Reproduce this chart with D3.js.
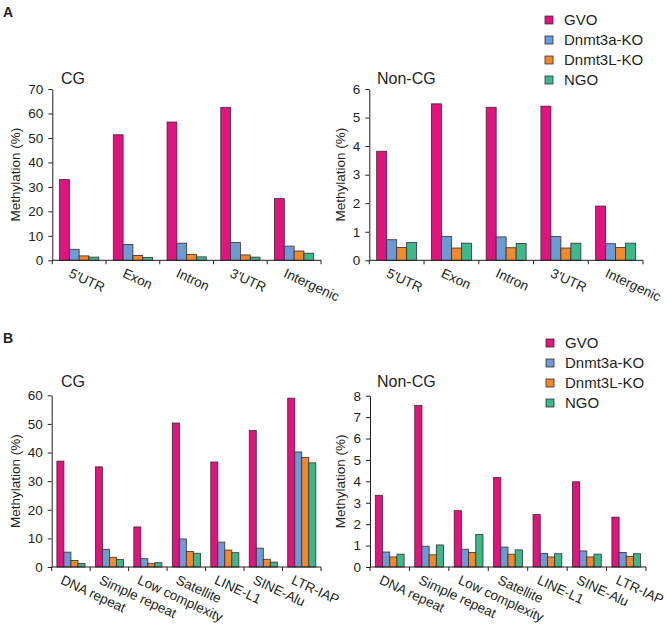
<!DOCTYPE html>
<html><head><meta charset="utf-8">
<script src="https://cdn.jsdelivr.net/npm/d3@7"></script>
<style>
body{margin:0;background:#fff;}
text{font-family:"Liberation Sans",Arial,Helvetica,sans-serif;fill:#231f20;}
</style></head>
<body>
<svg id="chart" width="668" height="626"></svg>
<script>
const seriesNames = ["GVO", "Dnmt3a-KO", "Dnmt3L-KO", "NGO"];
const seriesColors = ["#e2127e", "#6b9bd6", "#f28a2a", "#3cb98a"];

const regionCats = ["5'UTR", "Exon", "Intron", "3'UTR", "Intergenic"];
const regionCG_GVO = [33.0, 51.3, 56.5, 62.5, 25.2];
const regionCG_3a  = [4.5, 6.5, 7.0, 7.3, 5.8];
const regionCG_3L  = [1.8, 2.0, 2.4, 2.2, 3.8];
const regionCG_NGO = [1.3, 1.2, 1.4, 1.3, 2.9];
const regionNonCG_GVO = [3.82, 5.48, 5.36, 5.40, 1.90];
const regionNonCG_3a  = [0.72, 0.84, 0.82, 0.83, 0.58];
const regionNonCG_3L  = [0.45, 0.43, 0.44, 0.43, 0.45];
const regionNonCG_NGO = [0.62, 0.60, 0.59, 0.60, 0.60];

const repeatCats = ["DNA repeat", "Simple repeat", "Low complexity", "Satellite", "LINE-L1", "SINE-Alu", "LTR-IAP"];
const repeatCG_GVO = [37.0, 35.0, 14.0, 50.3, 36.7, 47.7, 59.0];
const repeatCG_3a  = [5.2, 6.2, 2.9, 9.8, 8.7, 6.6, 40.2];
const repeatCG_3L  = [2.3, 3.4, 1.3, 5.4, 5.9, 2.7, 38.3];
const repeatCG_NGO = [1.2, 2.6, 1.5, 4.8, 5.0, 1.7, 36.4];
const repeatNonCG_GVO = [3.35, 7.55, 2.63, 4.18, 2.45, 3.98, 2.33];
const repeatNonCG_3a  = [0.70, 0.97, 0.83, 0.93, 0.63, 0.75, 0.68];
const repeatNonCG_3L  = [0.47, 0.57, 0.68, 0.60, 0.47, 0.47, 0.50];
const repeatNonCG_NGO = [0.60, 1.03, 1.52, 0.80, 0.62, 0.60, 0.62];

const cgTicks70 = [0, 10, 20, 30, 40, 50, 60, 70];
const nonCgTicks6 = [0, 1, 2, 3, 4, 5, 6];
const cgTicks60 = [0, 10, 20, 30, 40, 50, 60];
const nonCgTicks8 = [0, 1, 2, 3, 4, 5, 6, 7, 8];

const svg = d3.select("#chart");

function panel(cfg) {
  const g = svg.append("g");
  const x = d3.scaleBand().domain(cfg.cats).range([cfg.x0, cfg.x1]).padding(0);
  const bw = x.bandwidth();
  const xs = d3.scaleBand().domain(d3.range(seriesNames.length)).range([bw * 0.135, bw * 0.865]).padding(0);
  const y = d3.scaleLinear().domain([0, cfg.ymax]).range([cfg.y0, cfg.yTop]);

  cfg.series.forEach((vals, si) => {
    g.selectAll(null).data(vals).enter().append("rect")
      .attr("x", (d, i) => x(cfg.cats[i]) + xs(si))
      .attr("y", d => y(d))
      .attr("width", xs.bandwidth())
      .attr("height", d => y(0) - y(d))
      .attr("fill", seriesColors[si])
      .attr("stroke", "#3b2a30")
      .attr("stroke-width", 0.8);
  });

  // y axis
  const ya = g.append("g").attr("transform", `translate(${cfg.x0},0)`)
    .call(d3.axisLeft(y).tickValues(cfg.ticks).tickSize(4).tickSizeOuter(0).tickPadding(5).tickFormat(d3.format("d")));
  ya.selectAll("text").style("font-size", "13.5px").attr("fill", "#231f20");
  ya.selectAll("line,path").attr("stroke", "#231f20");

  // x axis with ticks at category boundaries
  const bounds = cfg.cats.map(c => x(c)).concat([x.range()[1]]);
  g.append("line").attr("x1", cfg.x0).attr("x2", cfg.x1).attr("y1", cfg.y0).attr("y2", cfg.y0).attr("stroke", "#231f20");
  g.selectAll(null).data(bounds).enter().append("line")
    .attr("x1", d => d).attr("x2", d => d).attr("y1", cfg.y0).attr("y2", cfg.y0 + 4).attr("stroke", "#231f20");

  g.selectAll(null).data(cfg.cats).enter().append("text")
    .attr("transform", d => `translate(${x(d) + bw / 2 - 7},${cfg.y0 + 7}) rotate(25)`)
    .attr("dy", "0.75em")
    .style("font-size", "13.5px")
    .text(d => d);

  g.append("text").attr("transform", `translate(${cfg.ytx},${(cfg.y0 + cfg.yTop) / 2}) rotate(-90)`)
    .attr("text-anchor", "middle").attr("dy", "0.35em").style("font-size", "13.5px").text("Methylation (%)");

  g.append("text").attr("x", cfg.tx).attr("y", cfg.ty).style("font-size", "16px").text(cfg.title);
}

function legend(lx, ly) {
  const g = svg.append("g");
  seriesNames.forEach((n, i) => {
    g.append("rect").attr("x", lx).attr("y", ly + i * 20 - 4).attr("width", 8).attr("height", 8)
      .attr("fill", seriesColors[i]).attr("stroke", "#3b2a30").attr("stroke-width", 0.8);
    g.append("text").attr("x", lx + 19).attr("y", ly + i * 20).attr("dy", "0.36em").style("font-size", "15px").text(n);
  });
}

panel({cats: regionCats, series: [regionCG_GVO, regionCG_3a, regionCG_3L, regionCG_NGO], ymax: 70, ticks: cgTicks70,
  x0: 52.3, x1: 321, y0: 260.3, yTop: 89, ytx: 15, title: "CG", tx: 61, ty: 84});
panel({cats: regionCats, series: [regionNonCG_GVO, regionNonCG_3a, regionNonCG_3L, regionNonCG_NGO], ymax: 6, ticks: nonCgTicks6,
  x0: 369.3, x1: 643, y0: 260.3, yTop: 89, ytx: 340, title: "Non-CG", tx: 377, ty: 84});
panel({cats: repeatCats, series: [repeatCG_GVO, repeatCG_3a, repeatCG_3L, repeatCG_NGO], ymax: 60, ticks: cgTicks60,
  x0: 51.7, x1: 321, y0: 567, yTop: 395.3, ytx: 15, title: "CG", tx: 61, ty: 387});
panel({cats: repeatCats, series: [repeatNonCG_GVO, repeatNonCG_3a, repeatNonCG_3L, repeatNonCG_NGO], ymax: 8, ticks: nonCgTicks8,
  x0: 370, x1: 646, y0: 567, yTop: 395.7, ytx: 340, title: "Non-CG", tx: 377, ty: 387});

legend(545, 20);
legend(546, 343);

svg.append("text").attr("x", 3).attr("y", 16.5).style("font-size", "14px").style("font-weight", "bold").text("A");
svg.append("text").attr("x", 3).attr("y", 343).style("font-size", "14px").style("font-weight", "bold").text("B");
</script>
</body></html>
